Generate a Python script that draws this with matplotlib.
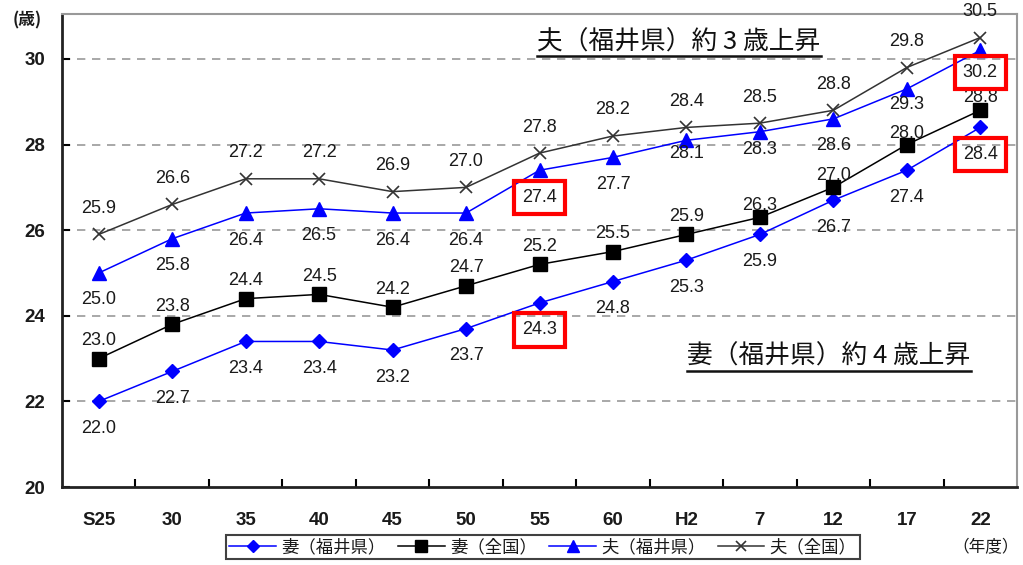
import matplotlib
matplotlib.use("Agg")
import matplotlib.pyplot as plt
from matplotlib.lines import Line2D
import numpy as np

plt.rcParams['font.family'] = ['Noto Sans CJK JP', 'DejaVu Sans']
num_font = ['Liberation Sans', 'Noto Sans CJK JP']

years = ["S25", "30", "35", "40", "45", "50", "55", "60", "H2", "7", "12", "17", "22"]
wife_fukui = [22.0, 22.7, 23.4, 23.4, 23.2, 23.7, 24.3, 24.8, 25.3, 25.9, 26.7, 27.4, 28.4]
wife_japan = [23.0, 23.8, 24.4, 24.5, 24.2, 24.7, 25.2, 25.5, 25.9, 26.3, 27.0, 28.0, 28.8]
husband_fukui = [25.0, 25.8, 26.4, 26.5, 26.4, 26.4, 27.4, 27.7, 28.1, 28.3, 28.6, 29.3, 30.2]
husband_japan = [25.9, 26.6, 27.2, 27.2, 26.9, 27.0, 27.8, 28.2, 28.4, 28.5, 28.8, 29.8, 30.5]
y_ticks = [20, 22, 24, 26, 28, 30]
highlight = {("husband_fukui", 6), ("wife_fukui", 6), ("husband_fukui", 12), ("wife_fukui", 12)}

W, H = 1023, 565
fig = plt.figure(figsize=(W / 100, H / 100), dpi=100)
ax = fig.add_axes([62 / W, 1 - 487 / H, (1017 - 62) / W, (487 - 14) / H])

x = np.arange(len(years))
text_col = "#1a1a1a"

# label offset in pixels (positive = below the point); a few crowded points get their own
series = [
    ("wife_fukui", wife_fukui, "妻（福井県）",
     dict(color="#0000ff", marker="D", ms=7.5, mfc="#0000ff", mec="#0000ff"), 27, {}),
    ("wife_japan", wife_japan, "妻（全国）",
     dict(color="#000000", marker="s", ms=9.5, mfc="#000000", mec="#000000"), -18,
     {9: -12, 10: -12, 11: -11, 12: -13}),
    ("husband_fukui", husband_fukui, "夫（福井県）",
     dict(color="#0000ff", marker="^", ms=10, mfc="#0000ff", mec="#0000ff"), 27,
     {8: 13, 9: 18, 11: 16, 12: 22}),
    ("husband_japan", husband_japan, "夫（全国）",
     dict(color="#333333", marker="x", ms=9, mew=1.2), -26, {}),
]

for key, vals, name, style, off, special in series:
    ax.plot(x, vals, lw=1.1, label=name, zorder=3, **style)
    for i, v in enumerate(vals):
        kw = {}
        if (key, i) in highlight:
            kw["bbox"] = dict(boxstyle="square,pad=0.45", fc="none", ec="#ff0000", lw=3)
        dy = special.get(i, off)
        ax.annotate(f"{v:.1f}", (i, v), xytext=(0, -dy), textcoords="offset pixels",
                    ha="center", va="center", fontsize=13, color=text_col, zorder=5,
                    family=num_font, **kw)

ax.set_xlim(-0.5, len(years) - 0.5)
ax.set_ylim(20, 31.05)
ax.set_yticks(y_ticks)
ax.set_yticklabels([str(t) for t in y_ticks], fontsize=13.5, color=text_col,
                   fontweight="bold", family=num_font)
ax.set_xticks(x)
ax.set_xticklabels(years, fontsize=13.5, color=text_col, fontweight="bold", family=num_font)
ax.set_xticks(np.arange(0.5, len(years) - 1, 1.0), minor=True)
ax.tick_params(axis="x", which="major", length=0, pad=18)
ax.tick_params(axis="x", which="minor", length=6, direction="in", width=1.5)
ax.tick_params(axis="y", length=6, direction="in", width=1.5, pad=12)

for t in y_ticks[1:]:
    ax.axhline(t, color="#999999", lw=1.2, ls=(0, (5, 4)), zorder=1)

for side, col, lw in [("left", "#222222", 2), ("bottom", "#222222", 2),
                      ("top", "#999999", 1.5), ("right", "#999999", 1.5)]:
    ax.spines[side].set_color(col)
    ax.spines[side].set_linewidth(lw)

fig.text(27 / W, 1 - 20 / H, "(歳)", ha="center", va="center", fontsize=12,
         color=text_col, fontweight="bold")
fig.text(986 / W, 1 - 548 / H, "（年度）", ha="center", va="center", fontsize=12, color=text_col)

notes = [
    ("夫（福井県）約 3 歳上昇", 679, 42),
    ("妻（福井県）約 4 歳上昇", 829, 357),
]
fig.canvas.draw()
renderer = fig.canvas.get_renderer()
for s, px, py in notes:
    t = fig.text(px / W, 1 - py / H, s, ha="center", va="center", fontsize=18.5, color="#111111")
    bb = t.get_window_extent(renderer)
    yline = bb.y0 - 1
    fig.add_artist(Line2D([bb.x0 / W, bb.x1 / W], [yline / H, yline / H],
                          transform=fig.transFigure, color="#111111", lw=1.8))

leg = fig.legend(loc="center", bbox_to_anchor=(543 / W, 1 - 547 / H), ncol=4,
                 frameon=True, fancybox=False, edgecolor="#111111", fontsize=12.5,
                 handlelength=2.7, columnspacing=0.7, handletextpad=0.3, borderpad=0.2,
                 borderaxespad=0, markerscale=0.85)
leg.get_frame().set_linewidth(1.5)
for txt in leg.get_texts():
    txt.set_color(text_col)

fig.savefig("out.png", dpi=100)
